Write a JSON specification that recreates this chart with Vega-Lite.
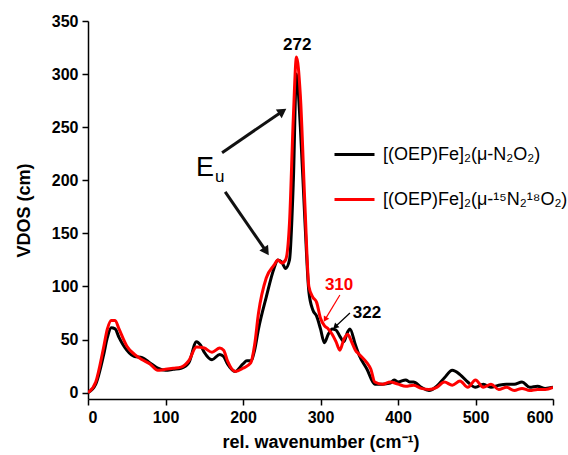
{
  "$schema": "https://vega.github.io/schema/vega-lite/v6.json",
  "width": 465,
  "height": 378,
  "autosize": {"type": "none"},
  "padding": {"left": 88, "top": 21, "right": 15, "bottom": 56},
  "background": "white",
  "config": {
    "view": {"stroke": null},
    "font": "Liberation Sans",
    "axis": {"domainColor": "black", "domainWidth": 1.5, "tickColor": "black", "tickWidth": 1.5, "tickSize": 6, "grid": false, "labelFont": "Liberation Sans", "labelFontWeight": "bold", "labelFontSize": 16, "labelColor": "black", "titleFont": "Liberation Sans", "titleFontWeight": "bold", "titleFontSize": 18, "titleColor": "black"}
  },
  "datasets": {
    "vdos": [
      {"s": "[(OEP)Fe]₂(μ-N₂O₂)", "wn": 0, "v": 0}, {"s": "[(OEP)Fe]₂(μ-N₂O₂)", "wn": 10, "v": 8}, {"s": "[(OEP)Fe]₂(μ-N₂O₂)", "wn": 20, "v": 35}, {"s": "[(OEP)Fe]₂(μ-N₂O₂)", "wn": 25, "v": 52}, {"s": "[(OEP)Fe]₂(μ-N₂O₂)", "wn": 30, "v": 61}, {"s": "[(OEP)Fe]₂(μ-N₂O₂)", "wn": 35, "v": 60}, {"s": "[(OEP)Fe]₂(μ-N₂O₂)", "wn": 40, "v": 52}, {"s": "[(OEP)Fe]₂(μ-N₂O₂)", "wn": 50, "v": 40}, {"s": "[(OEP)Fe]₂(μ-N₂O₂)", "wn": 60, "v": 34}, {"s": "[(OEP)Fe]₂(μ-N₂O₂)", "wn": 70, "v": 33}, {"s": "[(OEP)Fe]₂(μ-N₂O₂)", "wn": 80, "v": 28}, {"s": "[(OEP)Fe]₂(μ-N₂O₂)", "wn": 90, "v": 23}, {"s": "[(OEP)Fe]₂(μ-N₂O₂)", "wn": 100, "v": 21}, {"s": "[(OEP)Fe]₂(μ-N₂O₂)", "wn": 110, "v": 22}, {"s": "[(OEP)Fe]₂(μ-N₂O₂)", "wn": 120, "v": 23}, {"s": "[(OEP)Fe]₂(μ-N₂O₂)", "wn": 130, "v": 28}, {"s": "[(OEP)Fe]₂(μ-N₂O₂)", "wn": 140, "v": 48}, {"s": "[(OEP)Fe]₂(μ-N₂O₂)", "wn": 145, "v": 45}, {"s": "[(OEP)Fe]₂(μ-N₂O₂)", "wn": 150, "v": 38}, {"s": "[(OEP)Fe]₂(μ-N₂O₂)", "wn": 160, "v": 31}, {"s": "[(OEP)Fe]₂(μ-N₂O₂)", "wn": 170, "v": 36}, {"s": "[(OEP)Fe]₂(μ-N₂O₂)", "wn": 175, "v": 34}, {"s": "[(OEP)Fe]₂(μ-N₂O₂)", "wn": 180, "v": 27}, {"s": "[(OEP)Fe]₂(μ-N₂O₂)", "wn": 190, "v": 20}, {"s": "[(OEP)Fe]₂(μ-N₂O₂)", "wn": 200, "v": 27}, {"s": "[(OEP)Fe]₂(μ-N₂O₂)", "wn": 205, "v": 30}, {"s": "[(OEP)Fe]₂(μ-N₂O₂)", "wn": 210, "v": 30}, {"s": "[(OEP)Fe]₂(μ-N₂O₂)", "wn": 215, "v": 40}, {"s": "[(OEP)Fe]₂(μ-N₂O₂)", "wn": 220, "v": 60}, {"s": "[(OEP)Fe]₂(μ-N₂O₂)", "wn": 230, "v": 90}, {"s": "[(OEP)Fe]₂(μ-N₂O₂)", "wn": 240, "v": 117}, {"s": "[(OEP)Fe]₂(μ-N₂O₂)", "wn": 245, "v": 125}, {"s": "[(OEP)Fe]₂(μ-N₂O₂)", "wn": 250, "v": 123}, {"s": "[(OEP)Fe]₂(μ-N₂O₂)", "wn": 255, "v": 117}, {"s": "[(OEP)Fe]₂(μ-N₂O₂)", "wn": 260, "v": 125}, {"s": "[(OEP)Fe]₂(μ-N₂O₂)", "wn": 265, "v": 200}, {"s": "[(OEP)Fe]₂(μ-N₂O₂)", "wn": 269, "v": 300}, {"s": "[(OEP)Fe]₂(μ-N₂O₂)", "wn": 274, "v": 250}, {"s": "[(OEP)Fe]₂(μ-N₂O₂)", "wn": 280, "v": 160}, {"s": "[(OEP)Fe]₂(μ-N₂O₂)", "wn": 285, "v": 95}, {"s": "[(OEP)Fe]₂(μ-N₂O₂)", "wn": 290, "v": 78}, {"s": "[(OEP)Fe]₂(μ-N₂O₂)", "wn": 295, "v": 72}, {"s": "[(OEP)Fe]₂(μ-N₂O₂)", "wn": 300, "v": 60}, {"s": "[(OEP)Fe]₂(μ-N₂O₂)", "wn": 305, "v": 47}, {"s": "[(OEP)Fe]₂(μ-N₂O₂)", "wn": 310, "v": 55}, {"s": "[(OEP)Fe]₂(μ-N₂O₂)", "wn": 315, "v": 60}, {"s": "[(OEP)Fe]₂(μ-N₂O₂)", "wn": 320, "v": 59}, {"s": "[(OEP)Fe]₂(μ-N₂O₂)", "wn": 325, "v": 53}, {"s": "[(OEP)Fe]₂(μ-N₂O₂)", "wn": 330, "v": 48}, {"s": "[(OEP)Fe]₂(μ-N₂O₂)", "wn": 335, "v": 57}, {"s": "[(OEP)Fe]₂(μ-N₂O₂)", "wn": 338, "v": 60}, {"s": "[(OEP)Fe]₂(μ-N₂O₂)", "wn": 345, "v": 45}, {"s": "[(OEP)Fe]₂(μ-N₂O₂)", "wn": 350, "v": 35}, {"s": "[(OEP)Fe]₂(μ-N₂O₂)", "wn": 360, "v": 22}, {"s": "[(OEP)Fe]₂(μ-N₂O₂)", "wn": 370, "v": 8}, {"s": "[(OEP)Fe]₂(μ-N₂O₂)", "wn": 380, "v": 8}, {"s": "[(OEP)Fe]₂(μ-N₂O₂)", "wn": 390, "v": 9}, {"s": "[(OEP)Fe]₂(μ-N₂O₂)", "wn": 395, "v": 12}, {"s": "[(OEP)Fe]₂(μ-N₂O₂)", "wn": 400, "v": 10}, {"s": "[(OEP)Fe]₂(μ-N₂O₂)", "wn": 410, "v": 12}, {"s": "[(OEP)Fe]₂(μ-N₂O₂)", "wn": 415, "v": 10}, {"s": "[(OEP)Fe]₂(μ-N₂O₂)", "wn": 420, "v": 10}, {"s": "[(OEP)Fe]₂(μ-N₂O₂)", "wn": 430, "v": 5}, {"s": "[(OEP)Fe]₂(μ-N₂O₂)", "wn": 440, "v": 2}, {"s": "[(OEP)Fe]₂(μ-N₂O₂)", "wn": 450, "v": 6}, {"s": "[(OEP)Fe]₂(μ-N₂O₂)", "wn": 460, "v": 14}, {"s": "[(OEP)Fe]₂(μ-N₂O₂)", "wn": 470, "v": 21}, {"s": "[(OEP)Fe]₂(μ-N₂O₂)", "wn": 480, "v": 17}, {"s": "[(OEP)Fe]₂(μ-N₂O₂)", "wn": 490, "v": 10}, {"s": "[(OEP)Fe]₂(μ-N₂O₂)", "wn": 500, "v": 5}, {"s": "[(OEP)Fe]₂(μ-N₂O₂)", "wn": 510, "v": 8}, {"s": "[(OEP)Fe]₂(μ-N₂O₂)", "wn": 520, "v": 5}, {"s": "[(OEP)Fe]₂(μ-N₂O₂)", "wn": 530, "v": 7}, {"s": "[(OEP)Fe]₂(μ-N₂O₂)", "wn": 540, "v": 8}, {"s": "[(OEP)Fe]₂(μ-N₂O₂)", "wn": 550, "v": 8}, {"s": "[(OEP)Fe]₂(μ-N₂O₂)", "wn": 560, "v": 10}, {"s": "[(OEP)Fe]₂(μ-N₂O₂)", "wn": 570, "v": 5}, {"s": "[(OEP)Fe]₂(μ-N₂O₂)", "wn": 580, "v": 6}, {"s": "[(OEP)Fe]₂(μ-N₂O₂)", "wn": 590, "v": 4}, {"s": "[(OEP)Fe]₂(μ-N₂O₂)", "wn": 600, "v": 5},
      {"s": "[(OEP)Fe]₂(μ-¹⁵N₂¹⁸O₂)", "wn": 0, "v": 0}, {"s": "[(OEP)Fe]₂(μ-¹⁵N₂¹⁸O₂)", "wn": 10, "v": 10}, {"s": "[(OEP)Fe]₂(μ-¹⁵N₂¹⁸O₂)", "wn": 20, "v": 42}, {"s": "[(OEP)Fe]₂(μ-¹⁵N₂¹⁸O₂)", "wn": 25, "v": 60}, {"s": "[(OEP)Fe]₂(μ-¹⁵N₂¹⁸O₂)", "wn": 30, "v": 68}, {"s": "[(OEP)Fe]₂(μ-¹⁵N₂¹⁸O₂)", "wn": 35, "v": 68}, {"s": "[(OEP)Fe]₂(μ-¹⁵N₂¹⁸O₂)", "wn": 40, "v": 60}, {"s": "[(OEP)Fe]₂(μ-¹⁵N₂¹⁸O₂)", "wn": 50, "v": 44}, {"s": "[(OEP)Fe]₂(μ-¹⁵N₂¹⁸O₂)", "wn": 60, "v": 36}, {"s": "[(OEP)Fe]₂(μ-¹⁵N₂¹⁸O₂)", "wn": 70, "v": 31}, {"s": "[(OEP)Fe]₂(μ-¹⁵N₂¹⁸O₂)", "wn": 80, "v": 27}, {"s": "[(OEP)Fe]₂(μ-¹⁵N₂¹⁸O₂)", "wn": 90, "v": 21}, {"s": "[(OEP)Fe]₂(μ-¹⁵N₂¹⁸O₂)", "wn": 100, "v": 22}, {"s": "[(OEP)Fe]₂(μ-¹⁵N₂¹⁸O₂)", "wn": 110, "v": 23}, {"s": "[(OEP)Fe]₂(μ-¹⁵N₂¹⁸O₂)", "wn": 120, "v": 24}, {"s": "[(OEP)Fe]₂(μ-¹⁵N₂¹⁸O₂)", "wn": 130, "v": 30}, {"s": "[(OEP)Fe]₂(μ-¹⁵N₂¹⁸O₂)", "wn": 140, "v": 43}, {"s": "[(OEP)Fe]₂(μ-¹⁵N₂¹⁸O₂)", "wn": 150, "v": 42}, {"s": "[(OEP)Fe]₂(μ-¹⁵N₂¹⁸O₂)", "wn": 160, "v": 38}, {"s": "[(OEP)Fe]₂(μ-¹⁵N₂¹⁸O₂)", "wn": 170, "v": 42}, {"s": "[(OEP)Fe]₂(μ-¹⁵N₂¹⁸O₂)", "wn": 175, "v": 40}, {"s": "[(OEP)Fe]₂(μ-¹⁵N₂¹⁸O₂)", "wn": 180, "v": 30}, {"s": "[(OEP)Fe]₂(μ-¹⁵N₂¹⁸O₂)", "wn": 190, "v": 20}, {"s": "[(OEP)Fe]₂(μ-¹⁵N₂¹⁸O₂)", "wn": 200, "v": 23}, {"s": "[(OEP)Fe]₂(μ-¹⁵N₂¹⁸O₂)", "wn": 210, "v": 28}, {"s": "[(OEP)Fe]₂(μ-¹⁵N₂¹⁸O₂)", "wn": 215, "v": 45}, {"s": "[(OEP)Fe]₂(μ-¹⁵N₂¹⁸O₂)", "wn": 220, "v": 75}, {"s": "[(OEP)Fe]₂(μ-¹⁵N₂¹⁸O₂)", "wn": 230, "v": 108}, {"s": "[(OEP)Fe]₂(μ-¹⁵N₂¹⁸O₂)", "wn": 240, "v": 120}, {"s": "[(OEP)Fe]₂(μ-¹⁵N₂¹⁸O₂)", "wn": 245, "v": 125}, {"s": "[(OEP)Fe]₂(μ-¹⁵N₂¹⁸O₂)", "wn": 250, "v": 122}, {"s": "[(OEP)Fe]₂(μ-¹⁵N₂¹⁸O₂)", "wn": 255, "v": 125}, {"s": "[(OEP)Fe]₂(μ-¹⁵N₂¹⁸O₂)", "wn": 260, "v": 160}, {"s": "[(OEP)Fe]₂(μ-¹⁵N₂¹⁸O₂)", "wn": 265, "v": 260}, {"s": "[(OEP)Fe]₂(μ-¹⁵N₂¹⁸O₂)", "wn": 269, "v": 316}, {"s": "[(OEP)Fe]₂(μ-¹⁵N₂¹⁸O₂)", "wn": 274, "v": 280}, {"s": "[(OEP)Fe]₂(μ-¹⁵N₂¹⁸O₂)", "wn": 280, "v": 175}, {"s": "[(OEP)Fe]₂(μ-¹⁵N₂¹⁸O₂)", "wn": 285, "v": 100}, {"s": "[(OEP)Fe]₂(μ-¹⁵N₂¹⁸O₂)", "wn": 290, "v": 90}, {"s": "[(OEP)Fe]₂(μ-¹⁵N₂¹⁸O₂)", "wn": 295, "v": 85}, {"s": "[(OEP)Fe]₂(μ-¹⁵N₂¹⁸O₂)", "wn": 300, "v": 70}, {"s": "[(OEP)Fe]₂(μ-¹⁵N₂¹⁸O₂)", "wn": 305, "v": 63}, {"s": "[(OEP)Fe]₂(μ-¹⁵N₂¹⁸O₂)", "wn": 310, "v": 60}, {"s": "[(OEP)Fe]₂(μ-¹⁵N₂¹⁸O₂)", "wn": 315, "v": 55}, {"s": "[(OEP)Fe]₂(μ-¹⁵N₂¹⁸O₂)", "wn": 320, "v": 48}, {"s": "[(OEP)Fe]₂(μ-¹⁵N₂¹⁸O₂)", "wn": 325, "v": 40}, {"s": "[(OEP)Fe]₂(μ-¹⁵N₂¹⁸O₂)", "wn": 330, "v": 50}, {"s": "[(OEP)Fe]₂(μ-¹⁵N₂¹⁸O₂)", "wn": 335, "v": 55}, {"s": "[(OEP)Fe]₂(μ-¹⁵N₂¹⁸O₂)", "wn": 340, "v": 48}, {"s": "[(OEP)Fe]₂(μ-¹⁵N₂¹⁸O₂)", "wn": 345, "v": 40}, {"s": "[(OEP)Fe]₂(μ-¹⁵N₂¹⁸O₂)", "wn": 350, "v": 36}, {"s": "[(OEP)Fe]₂(μ-¹⁵N₂¹⁸O₂)", "wn": 360, "v": 28}, {"s": "[(OEP)Fe]₂(μ-¹⁵N₂¹⁸O₂)", "wn": 365, "v": 22}, {"s": "[(OEP)Fe]₂(μ-¹⁵N₂¹⁸O₂)", "wn": 370, "v": 10}, {"s": "[(OEP)Fe]₂(μ-¹⁵N₂¹⁸O₂)", "wn": 380, "v": 8}, {"s": "[(OEP)Fe]₂(μ-¹⁵N₂¹⁸O₂)", "wn": 390, "v": 10}, {"s": "[(OEP)Fe]₂(μ-¹⁵N₂¹⁸O₂)", "wn": 400, "v": 8}, {"s": "[(OEP)Fe]₂(μ-¹⁵N₂¹⁸O₂)", "wn": 410, "v": 6}, {"s": "[(OEP)Fe]₂(μ-¹⁵N₂¹⁸O₂)", "wn": 420, "v": 7}, {"s": "[(OEP)Fe]₂(μ-¹⁵N₂¹⁸O₂)", "wn": 430, "v": 4}, {"s": "[(OEP)Fe]₂(μ-¹⁵N₂¹⁸O₂)", "wn": 440, "v": 3}, {"s": "[(OEP)Fe]₂(μ-¹⁵N₂¹⁸O₂)", "wn": 450, "v": 5}, {"s": "[(OEP)Fe]₂(μ-¹⁵N₂¹⁸O₂)", "wn": 460, "v": 10}, {"s": "[(OEP)Fe]₂(μ-¹⁵N₂¹⁸O₂)", "wn": 470, "v": 7}, {"s": "[(OEP)Fe]₂(μ-¹⁵N₂¹⁸O₂)", "wn": 480, "v": 11}, {"s": "[(OEP)Fe]₂(μ-¹⁵N₂¹⁸O₂)", "wn": 490, "v": 5}, {"s": "[(OEP)Fe]₂(μ-¹⁵N₂¹⁸O₂)", "wn": 500, "v": 12}, {"s": "[(OEP)Fe]₂(μ-¹⁵N₂¹⁸O₂)", "wn": 510, "v": 5}, {"s": "[(OEP)Fe]₂(μ-¹⁵N₂¹⁸O₂)", "wn": 520, "v": 8}, {"s": "[(OEP)Fe]₂(μ-¹⁵N₂¹⁸O₂)", "wn": 530, "v": 3}, {"s": "[(OEP)Fe]₂(μ-¹⁵N₂¹⁸O₂)", "wn": 540, "v": 5}, {"s": "[(OEP)Fe]₂(μ-¹⁵N₂¹⁸O₂)", "wn": 550, "v": 2}, {"s": "[(OEP)Fe]₂(μ-¹⁵N₂¹⁸O₂)", "wn": 560, "v": 4}, {"s": "[(OEP)Fe]₂(μ-¹⁵N₂¹⁸O₂)", "wn": 570, "v": 2}, {"s": "[(OEP)Fe]₂(μ-¹⁵N₂¹⁸O₂)", "wn": 580, "v": 3}, {"s": "[(OEP)Fe]₂(μ-¹⁵N₂¹⁸O₂)", "wn": 590, "v": 3}, {"s": "[(OEP)Fe]₂(μ-¹⁵N₂¹⁸O₂)", "wn": 600, "v": 5}
    ],
    "arrows": [
      {"id": "a1", "x": 173, "y": 226, "x2": 251, "y2": 265},
      {"id": "a2", "x": 177, "y": 189, "x2": 230, "y2": 133},
      {"id": "red", "x": 325, "y": 92, "x2": 306, "y2": 69},
      {"id": "blk", "x": 338, "y": 75, "x2": 319, "y2": 62}
    ],
    "labels": [
      {"t": "272", "x": 270, "y": 327, "c": "k"},
      {"t": "310", "x": 324, "y": 101, "c": "r"},
      {"t": "322", "x": 360, "y": 75, "c": "k"}
    ]
  },
  "layer": [
    {
      "data": {"name": "vdos"},
      "mark": {"type": "line", "interpolate": "monotone", "strokeWidth": 3, "clip": true},
      "encoding": {
        "x": {"field": "wn", "type": "quantitative", "scale": {"domain": [0, 600], "nice": false}, "axis": {"values": [0, 50, 100, 150, 200, 250, 300, 350, 400, 450, 500, 550, 600], "labelExpr": "datum.value % 100 == 0 ? datum.label : ''", "title": "rel. wavenumber (cm⁻¹)", "labelPadding": 4, "titlePadding": 8}},
        "y": {"field": "v", "type": "quantitative", "scale": {"domain": [-6, 350], "nice": false, "zero": false}, "axis": {"values": [0, 25, 50, 75, 100, 125, 150, 175, 200, 225, 250, 275, 300, 325, 350], "labelExpr": "datum.value % 50 == 0 ? datum.label : ''", "title": "VDOS (cm)", "titlePadding": 18, "labelPadding": 4}},
        "color": {"field": "s", "type": "nominal", "sort": null, "scale": {"domain": ["[(OEP)Fe]₂(μ-N₂O₂)", "[(OEP)Fe]₂(μ-¹⁵N₂¹⁸O₂)"], "range": ["#000000", "#ff0000"]},
          "legend": {"title": null, "orient": "none", "legendX": 245, "legendY": 112, "symbolType": "stroke", "symbolSize": 1600, "symbolStrokeWidth": 3, "labelFont": "Liberation Sans", "labelFontSize": 18, "labelColor": "black", "rowPadding": 14, "labelOffset": 7, "labelLimit": 300}}
      }
    },
    {
      "data": {"name": "arrows"},
      "mark": {"type": "rule", "strokeWidth": 3, "color": "#111"},
      "transform": [{"filter": "datum.id != 'red' && datum.id != 'blk'"}],
      "encoding": {"x": {"field": "x", "type": "quantitative"}, "y": {"field": "y", "type": "quantitative"}, "x2": {"field": "x2"}, "y2": {"field": "y2"}}
    },
    {
      "data": {"name": "arrows"},
      "mark": {"type": "rule", "strokeWidth": 1.2, "color": "#ff0000"},
      "transform": [{"filter": "datum.id == 'red'"}],
      "encoding": {"x": {"field": "x", "type": "quantitative"}, "y": {"field": "y", "type": "quantitative"}, "x2": {"field": "x2"}, "y2": {"field": "y2"}}
    },
    {
      "data": {"name": "arrows"},
      "mark": {"type": "rule", "strokeWidth": 1.2, "color": "#000"},
      "transform": [{"filter": "datum.id == 'blk'"}],
      "encoding": {"x": {"field": "x", "type": "quantitative"}, "y": {"field": "y", "type": "quantitative"}, "x2": {"field": "x2"}, "y2": {"field": "y2"}}
    },
    {
      "data": {"name": "arrows"},
      "mark": {"type": "point", "shape": "triangle-right", "filled": true, "color": "#111", "size": 110, "angle": -34, "opacity": 1},
      "transform": [{"filter": "datum.id == 'a1'"}],
      "encoding": {"x": {"field": "x2", "type": "quantitative"}, "y": {"field": "y2", "type": "quantitative"}}
    },
    {
      "data": {"name": "arrows"},
      "mark": {"type": "point", "shape": "triangle-right", "filled": true, "color": "#111", "size": 110, "angle": 56, "opacity": 1},
      "transform": [{"filter": "datum.id == 'a2'"}],
      "encoding": {"x": {"field": "x2", "type": "quantitative"}, "y": {"field": "y2", "type": "quantitative"}}
    },
    {
      "data": {"name": "arrows"},
      "mark": {"type": "point", "shape": "triangle-right", "filled": true, "color": "#ff0000", "size": 40, "angle": 121, "opacity": 1},
      "transform": [{"filter": "datum.id == 'red'"}],
      "encoding": {"x": {"field": "x2", "type": "quantitative"}, "y": {"field": "y2", "type": "quantitative"}}
    },
    {
      "data": {"name": "arrows"},
      "mark": {"type": "point", "shape": "triangle-right", "filled": true, "color": "#000", "size": 40, "angle": 137, "opacity": 1},
      "transform": [{"filter": "datum.id == 'blk'"}],
      "encoding": {"x": {"field": "x2", "type": "quantitative"}, "y": {"field": "y2", "type": "quantitative"}}
    },
    {
      "data": {"name": "labels"},
      "mark": {"type": "text", "font": "Liberation Sans", "fontWeight": "bold", "fontSize": 17},
      "encoding": {"x": {"field": "x", "type": "quantitative"}, "y": {"field": "y", "type": "quantitative"}, "text": {"field": "t"},
        "color": {"field": "c", "type": "nominal", "scale": {"domain": ["k", "r"], "range": ["#000000", "#ff0000"]}, "legend": null}}
    },
    {
      "data": {"values": [{"t": "E", "x": 151, "y": 212}]},
      "mark": {"type": "text", "font": "Liberation Sans", "fontSize": 27, "color": "black"},
      "encoding": {"x": {"field": "x", "type": "quantitative"}, "y": {"field": "y", "type": "quantitative"}, "text": {"field": "t"}}
    },
    {
      "data": {"values": [{"t": "u", "x": 170, "y": 203}]},
      "mark": {"type": "text", "font": "Liberation Sans", "fontSize": 17, "color": "black"},
      "encoding": {"x": {"field": "x", "type": "quantitative"}, "y": {"field": "y", "type": "quantitative"}, "text": {"field": "t"}}
    }
  ],
  "resolve": {"scale": {"color": "independent"}}
}
